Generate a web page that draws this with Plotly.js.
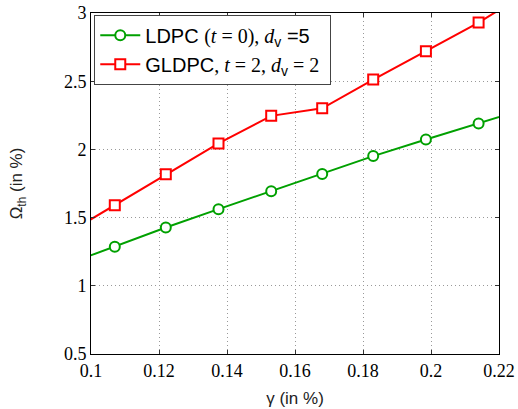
<!DOCTYPE html>
<html>
<head>
<meta charset="utf-8">
<script src="https://cdn.plot.ly/plotly-3.0.1.min.js"></script>
<style>html,body{margin:0;padding:0;background:#fff;}#chart{width:518px;height:409px;}</style>
</head>
<body>
<div id="chart"></div>
<script>
// gamma values (in %), including points just outside the visible range
const gamma = [0.0917, 0.107, 0.122, 0.1375, 0.153, 0.168, 0.183, 0.1985, 0.214, 0.229];
const ldpc  = [1.147, 1.287, 1.427, 1.562, 1.694, 1.820, 1.951, 2.073, 2.190, 2.307];
const gldpc = [1.365, 1.591, 1.817, 2.044, 2.246, 2.301, 2.512, 2.720, 2.930, 3.160];
const xTicks = [0.1, 0.12, 0.14, 0.16, 0.18, 0.2, 0.22];
const xTickText = ['0.1', '0.12', '0.14', '0.16', '0.18', '0.2', '0.22'];
const yTicks = [0.5, 1, 1.5, 2, 2.5, 3];
const yTickText = ['0.5', '1', '1.5', '2', '2.5', '3'];

const serif = 'Liberation Serif';
const sans = 'Liberation Sans';
const M = s => '<span style="font-family:Liberation Serif">' + s + '</span>';

const traces = [
  {
    x: gamma, y: ldpc, type: 'scatter', mode: 'lines+markers',
    name: 'LDPC ' + M('(<i>t</i> = 0), <i>d</i>') + '<sub>v</sub> =5\u00a0',
    line: {color: '#00A000', width: 2},
    marker: {symbol: 'circle', size: 10, color: '#fff', line: {width: 2, color: '#00A000'}},
    cliponaxis: true
  },
  {
    x: gamma, y: gldpc, type: 'scatter', mode: 'lines+markers',
    name: 'GLDPC' + M(', <i>t</i> = 2, <i>d</i>') + '<sub>v</sub>' + M(' = 2\u00a0'),
    line: {color: '#FF0000', width: 2},
    marker: {symbol: 'square', size: 10, color: '#fff', line: {width: 2, color: '#FF0000'}},
    cliponaxis: true
  }
];

const axisCommon = {
  showline: true, linecolor: '#000', linewidth: 1, mirror: 'ticks',
  ticks: 'inside', ticklen: 4, tickcolor: '#333', tickwidth: 1,
  showgrid: true, gridcolor: '#999', griddash: '1px,3px', gridwidth: 1,
  zeroline: false,
  tickfont: {family: serif, size: 18, color: '#000'}
};

const layout = {
  width: 518, height: 409,
  margin: {l: 91, r: 19, t: 13, b: 55},
  paper_bgcolor: '#fff', plot_bgcolor: '#fff',
  showlegend: true,
  legend: {
    x: 0.008, y: 0.995, xanchor: 'left', yanchor: 'top',
    bgcolor: '#fff', bordercolor: '#444', borderwidth: 1,
    font: {family: sans, size: 20, color: '#000'},
    tracegroupgap: 0, itemwidth: 40
  },
  xaxis: Object.assign({}, axisCommon, {
    range: [0.1, 0.22], tickvals: xTicks, ticktext: xTickText,
    title: {text: 'γ (in %)', font: {family: sans, size: 17, color: '#222'}, standoff: 12}
  }),
  yaxis: Object.assign({}, axisCommon, {
    range: [0.5, 3], tickvals: yTicks, ticktext: yTickText,
    title: {text: 'Ω<sub>th</sub> (in %)', font: {family: sans, size: 17, color: '#222'}, standoff: 36}
  })
};

Plotly.newPlot('chart', traces, layout, {displayModeBar: false, staticPlot: true});
</script>
</body>
</html>
